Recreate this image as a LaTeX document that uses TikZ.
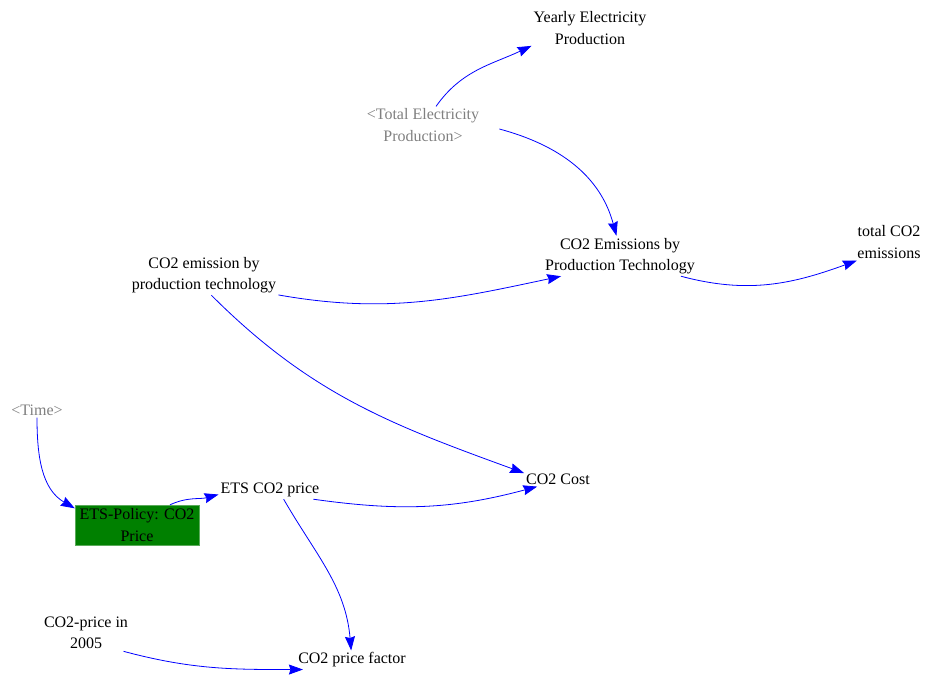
\documentclass[tikz,border=0pt]{standalone}
\usepackage{fontspec}
\setmainfont{Liberation Serif}
\usetikzlibrary{arrows.meta}
\definecolor{vblue}{RGB}{0,0,255}
\definecolor{vgray}{RGB}{128,128,128}
\definecolor{vgreen}{RGB}{0,128,0}
\definecolor{vgreenb}{RGB}{90,170,90}
\begin{document}
\begin{tikzpicture}[x=1pt,y=1pt,
  font=\fontsize{16}{21.5}\selectfont,
  var/.style={align=center, inner sep=2pt},
  shadowvar/.style={var, text=vgray},
  link/.style={draw=vblue, line width=0.8pt, -{Stealth[length=14pt,width=10pt,inset=1.5pt]}}]
\useasboundingbox (0,0) rectangle (928,-677);

\node[var] (yep) at (590,-28) {Yearly Electricity\\Production};
\node[shadowvar] (tep) at (423,-125) {<Total Electricity\\Production>};
\node[var] (ept) at (620,-256) {CO2 Emissions by\\Production Technology};
\node[var] (tot) at (889,-242) {total CO2\\emissions};
\node[var] (cpt) at (204,-275) {CO2 emission by\\production technology};
\node[shadowvar] (time) at (37,-410) {<Time>};
\node[draw=vgreenb, fill=vgreen, align=center, inner sep=0pt,
      minimum width=124, minimum height=40] (ets) at (137,-525) {ETS-Policy: CO2\\Price};
\node[var] (etsp) at (270,-490) {ETS CO2 price};
\node[var] (cost) at (558,-479) {CO2 Cost};
\node[var] (p05) at (86,-633) {CO2-price in\\2005};
\node[var] (pf) at (352,-660) {CO2 price factor};

\draw[link] (tep.55) to[out=55,in=205] (yep.197);
\draw[link] ([xshift=18pt,yshift=-4pt]tep.east) to[out=-15,in=105] (ept.100);
\draw[link] (cpt.-15) to[out=-10,in=192] ([xshift=18pt]ept.south west);
\draw[link] ([xshift=-16pt]ept.south east) to[out=-15,in=200] (tot.210);
\draw[link] (cpt.-70) to[out=-45,in=160] (cost.170);
\draw[link] (time.south) to[out=-90,in=150] (ets.165);
\draw[link] ([xshift=33pt]ets.north) to[out=25,in=195] (etsp.185);
\draw[link] (etsp.-12) to[out=-8,in=195] (cost.200);
\draw[link] (etsp.-34) to[out=-60,in=95] (pf.95);
\draw[link] (p05.-26) to[out=-15,in=180] (pf.191);
\end{tikzpicture}
\end{document}
